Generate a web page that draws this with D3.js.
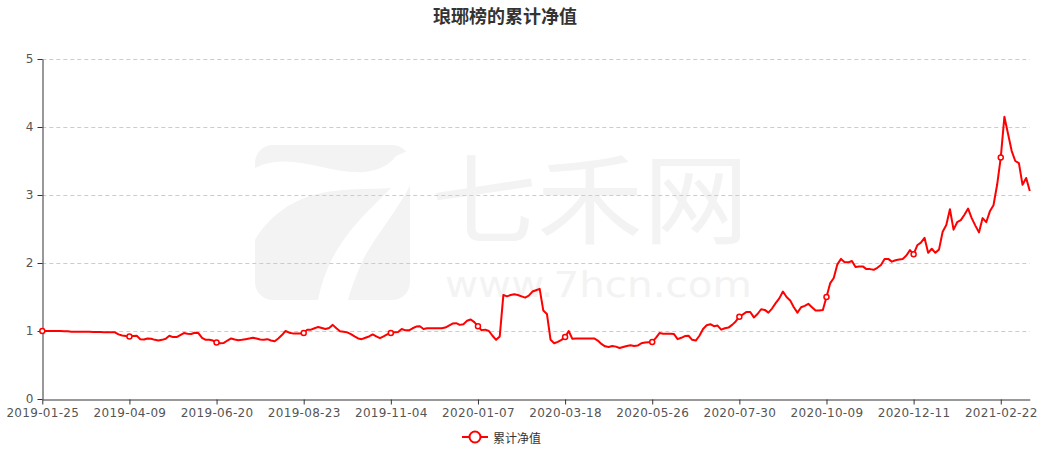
<!DOCTYPE html>
<html><head><meta charset="utf-8">
<script src="https://cdn.jsdelivr.net/npm/d3@7/dist/d3.min.js"></script>
<style>
body{margin:0;background:#fff;}
svg{display:block;font-family:"Noto Sans CJK SC","DejaVu Sans",sans-serif;}
</style>
</head><body>
<svg id="chart" width="1046" height="451"></svg>
<script>
const chartTitle = "琅琊榜的累计净值";
const seriesName = "累计净值";
const tickLabels = ["2019-01-25","2019-04-09","2019-06-20","2019-08-23","2019-11-04","2020-01-07","2020-03-18","2020-05-26","2020-07-30","2020-10-09","2020-12-11","2021-02-22"];
const tickEvery = 24;
const yTicks = [0,1,2,3,4,5];
const values = [
1.00,1.00,1.00,1.00,1.00,1.00,0.995,0.995,0.99,0.99,
0.99,0.99,0.99,0.988,0.987,0.985,0.985,0.983,0.982,0.98,
0.98,0.95,0.935,0.925,0.92,0.925,0.93,0.88,0.875,0.89,
0.885,0.87,0.86,0.87,0.885,0.93,0.91,0.91,0.94,0.97,
0.96,0.955,0.975,0.97,0.90,0.87,0.87,0.86,0.83,0.82,
0.825,0.86,0.89,0.875,0.865,0.87,0.88,0.89,0.90,0.89,
0.875,0.87,0.88,0.86,0.85,0.89,0.94,1.00,0.975,0.965,
0.965,0.965,0.97,1.02,1.02,1.04,1.06,1.045,1.03,1.045,
1.09,1.04,0.995,0.99,0.98,0.955,0.92,0.89,0.88,0.90,
0.92,0.95,0.92,0.895,0.92,0.95,0.97,0.98,0.985,1.03,
1.01,1.01,1.04,1.065,1.07,1.03,1.04,1.04,1.04,1.04,
1.04,1.05,1.08,1.11,1.115,1.09,1.10,1.15,1.17,1.13,
1.07,1.01,1.02,1.00,0.93,0.87,0.92,1.53,1.51,1.53,
1.54,1.53,1.51,1.49,1.52,1.58,1.60,1.62,1.30,1.25,
0.87,0.82,0.84,0.87,0.91,1.00,0.885,0.89,0.89,0.89,
0.89,0.89,0.89,0.86,0.81,0.775,0.765,0.78,0.77,0.75,
0.765,0.78,0.79,0.78,0.785,0.82,0.83,0.835,0.84,0.90,
0.97,0.96,0.96,0.96,0.955,0.88,0.90,0.925,0.93,0.87,
0.86,0.93,1.03,1.085,1.10,1.07,1.08,1.02,1.04,1.05,
1.09,1.14,1.21,1.245,1.28,1.28,1.20,1.25,1.32,1.31,
1.27,1.33,1.41,1.48,1.58,1.50,1.45,1.35,1.27,1.35,
1.37,1.40,1.35,1.30,1.30,1.31,1.50,1.70,1.78,1.98,
2.06,2.01,2.01,2.03,1.94,1.95,1.95,1.91,1.91,1.90,
1.93,1.97,2.06,2.06,2.02,2.04,2.05,2.06,2.11,2.19,
2.13,2.26,2.30,2.37,2.15,2.21,2.15,2.20,2.46,2.56,
2.79,2.49,2.60,2.63,2.71,2.80,2.66,2.55,2.45,2.66,
2.60,2.76,2.85,3.15,3.55,4.15,3.90,3.65,3.50,3.47,
3.15,3.25,3.06
];

const svg = d3.select("#chart");
const lineColor = "#ff0000";

// watermark
const wm = svg.append("g").attr("class","watermark");
wm.append("rect").attr("x",255).attr("y",145).attr("width",155).attr("height",155).attr("rx",18).attr("fill","#f3f3f3");
wm.append("path").attr("fill","#fff")
  .attr("d","M255,168 C290,150 330,175 365,172 C382,170 392,162 396,156 L410,150 L410,185 C380,192 345,185 310,196 C285,204 265,222 255,240 Z");
wm.append("path").attr("fill","#fff")
  .attr("d","M398,180 L412,182 C395,215 372,240 362,262 C355,278 350,292 348,300 L318,300 C322,280 330,258 345,238 C362,214 385,196 398,180 Z");
wm.append("text").attr("x",590).attr("y",236).attr("text-anchor","middle")
  .attr("font-size",98).attr("fill","#f3f3f3")
  .attr("textLength",318).attr("lengthAdjust","spacingAndGlyphs").text("七禾网");
wm.append("text").attr("x",445).attr("y",297).attr("font-family","DejaVu Sans")
  .attr("font-size",36).attr("fill","#f3f3f3")
  .attr("textLength",307).attr("lengthAdjust","spacingAndGlyphs").text("www.7hcn.com");

const x = d3.scaleLinear().domain([0, values.length - 1]).range([42.3, 1029.8]);
const y = d3.scaleLinear().domain([0, 5]).range([399, 59]);

// grid
svg.append("g").selectAll("line").data(yTicks.filter(d => d > 0)).join("line")
  .attr("x1", x(0)).attr("x2", x(values.length - 1))
  .attr("y1", d => Math.round(y(d)) + 0.5).attr("y2", d => Math.round(y(d)) + 0.5)
  .attr("stroke", "#cccccc").attr("stroke-dasharray", "4,3");

// axes
const tickIdx = d3.range(0, values.length, tickEvery);
const xAxis = d3.axisBottom(x).tickValues(tickIdx).tickFormat((d, i) => tickLabels[i]).tickSize(5).tickSizeOuter(0).tickPadding(4);
const gx = svg.append("g").attr("transform", "translate(0,399.5)").call(xAxis);
const yAxis = d3.axisLeft(y).tickValues(yTicks).tickFormat(d3.format("d")).tickSize(5).tickSizeOuter(0).tickPadding(4);
const gy = svg.append("g").attr("transform", "translate(42.5,0)").call(yAxis);
[gx, gy].forEach(g => {
  g.select(".domain").attr("stroke", "#333");
  g.selectAll(".tick line").attr("stroke", "#333");
  g.selectAll(".tick text").attr("fill", "#555").attr("font-size", 12).attr("font-family", "DejaVu Sans");
});
gx.selectAll(".tick text").attr("letter-spacing", "0.3px");

// line
const line = d3.line().x((d, i) => x(i)).y(d => y(d));
svg.append("path").datum(values).attr("d", line).attr("fill", "none")
  .attr("stroke", lineColor).attr("stroke-width", 2).attr("stroke-linejoin", "round");

// markers at labelled points
svg.append("g").selectAll("circle").data(tickIdx).join("circle")
  .attr("cx", i => x(i)).attr("cy", i => y(values[i])).attr("r", 2.5)
  .attr("fill", "#fff").attr("stroke", lineColor).attr("stroke-width", 1.5);

// title
svg.append("text").attr("x", 505).attr("y", 15).attr("text-anchor", "middle").attr("dominant-baseline", "central")
  .attr("font-size", 18).attr("font-weight", "bold").attr("fill", "#333").text(chartTitle);

// legend
const lg = svg.append("g");
lg.append("line").attr("x1", 462).attr("x2", 488).attr("y1", 437).attr("y2", 437).attr("stroke", lineColor).attr("stroke-width", 2);
lg.append("circle").attr("cx", 475).attr("cy", 437).attr("r", 5.5).attr("fill", "#fff").attr("stroke", lineColor).attr("stroke-width", 2);
lg.append("text").attr("x", 493).attr("y", 437).attr("dominant-baseline", "central").attr("font-size", 12).attr("fill", "#333").text(seriesName);
</script>
</body></html>
